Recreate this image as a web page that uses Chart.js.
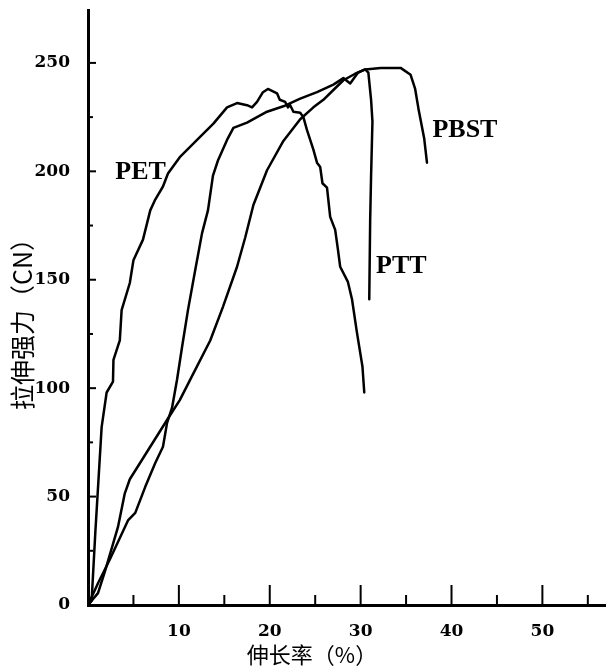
<!DOCTYPE html>
<html>
<head>
<meta charset="utf-8">
<script src="https://cdn.jsdelivr.net/npm/chart.js@4"></script>
<style>
  html, body { margin: 0; padding: 0; background: #fff; }
  #wrap { width: 606px; height: 670px; }
</style>
</head>
<body>
<div id="wrap"><canvas id="chart" width="606" height="670"></canvas></div>
<script>
// Curves: elongation (%) vs tensile force (CN)
const petX = [0, 0.4, 0.8, 1.5, 2.05, 2.75, 2.8, 3.5, 3.7, 4.6, 5.0, 6.05, 6.85, 7.4, 8.25, 8.8, 10.1, 12.0, 13.8, 15.3, 16.4, 17.5, 18.05, 18.6, 19.25, 19.8, 20.8, 21.1, 21.7, 22.0, 22.25, 22.6, 23.35, 23.7, 24.1, 24.8, 25.2, 25.55, 25.8, 26.3, 26.65, 27.2, 27.5, 27.75, 28.6, 29.05, 29.6, 30.2, 30.4];
const petY = [0, 2, 33, 82, 98, 103, 113, 122, 136, 148.5, 159, 168.5, 182, 187, 193, 199, 206.5, 214.5, 222, 229.5, 231.5, 230.5, 229.5, 232, 236.5, 238, 236, 233, 232, 229.5, 230.5, 227.5, 227, 225, 219, 210, 204, 202, 194.5, 192.5, 179, 173, 164, 156, 149, 141, 125.5, 110, 98];

const pbstX = [0, 1.1, 2.4, 4.4, 5.2, 6.3, 7.4, 8.25, 8.7, 9.25, 9.8, 10.35, 11.0, 11.8, 12.55, 13.2, 13.75, 14.3, 15.3, 16.0, 17.5, 19.7, 21.5, 23.35, 25.2, 27.0, 28.1, 28.85, 29.7, 30.5, 32.2, 34.4, 35.5, 36.0, 36.4, 37.0, 37.3];
const pbstY = [0, 10, 21, 39, 42.5, 54.5, 65.5, 73, 84, 91, 104, 119, 136, 154.5, 171.5, 182, 198, 205, 214.5, 220, 222.5, 227.5, 230, 233.5, 236.5, 240, 243, 240.5, 245.5, 247, 247.7, 247.7, 244.5, 238, 228, 215, 204];

const pttX = [0, 1.1, 1.9, 3.3, 4.05, 4.6, 5.95, 8.8, 10.1, 11.5, 13.45, 14.85, 16.4, 17.3, 18.2, 19.7, 21.5, 23.35, 24.8, 25.9, 27.0, 28.1, 29.4, 30.5, 30.85, 31.15, 31.3, 31.15, 31.05, 30.95];
const pttY = [0, 5.5, 16, 36, 51.5, 58, 67, 86, 94.5, 106, 122, 137.5, 156, 169.5, 184.5, 200.5, 214, 224, 229.5, 233, 237.5, 242, 245, 247, 245.5, 233, 223, 198, 177.5, 141];

const xTicks = [10, 20, 30, 40, 50];
const yTicks = [0, 50, 100, 150, 200, 250];

const curveNames = ['PET', 'PBST', 'PTT'];
const curveLabelX = [3.0, 37.9, 31.7];
const curveLabelY = [199.7, 219, 156.4];

const xTitle = '伸长率（%）';
const yTitle = '拉伸强力（CN）';

function pts(xs, ys) {
    return xs.map((x, i) => ({ x: x, y: ys[i] }));
}

const axisDecor = {
    id: 'axisDecor',
    afterDraw(chart) {
        const { ctx, chartArea, scales: { x, y } } = chart;
        ctx.save();
        ctx.strokeStyle = '#000';
        ctx.lineWidth = 2;
        // inward tick marks on x
        for (let v = 5; v <= 55; v += 5) {
            const px = x.getPixelForValue(v);
            const len = v % 10 === 0 ? 20 : 10;
            ctx.beginPath();
            ctx.moveTo(px, chartArea.bottom);
            ctx.lineTo(px, chartArea.bottom - len);
            ctx.stroke();
        }
        // inward tick marks on y
        for (let v = 25; v <= 250; v += 25) {
            const py = y.getPixelForValue(v);
            const len = v % 50 === 0 ? 8 : 5;
            ctx.beginPath();
            ctx.moveTo(chartArea.left, py);
            ctx.lineTo(chartArea.left + len, py);
            ctx.stroke();
        }

        // curve labels
        ctx.fillStyle = '#000';
        ctx.font = "bold 26px 'Liberation Serif', serif";
        ctx.textAlign = 'left';
        ctx.textBaseline = 'middle';
        curveNames.forEach((name, i) => {
            ctx.fillText(name, x.getPixelForValue(curveLabelX[i]), y.getPixelForValue(curveLabelY[i]));
        });

        // axis titles
        ctx.font = "22px 'Noto Sans CJK SC', sans-serif";
        ctx.textAlign = 'center';
        ctx.fillText(xTitle, 312, 655);
        ctx.translate(22, 318);
        ctx.rotate(-Math.PI / 2);
        ctx.font = "25px 'Noto Sans CJK SC', sans-serif";
        ctx.fillText(yTitle, 0, 0);
        ctx.restore();
    }
};

const lineStyle = {
    borderColor: '#000',
    borderWidth: 2.5,
    pointRadius: 0,
    tension: 0,
    fill: false,
    borderJoinStyle: 'round',
    borderCapStyle: 'round'
};

new Chart(document.getElementById('chart'), {
    type: 'line',
    data: {
        datasets: [
            Object.assign({ label: 'PET', data: pts(petX, petY) }, lineStyle),
            Object.assign({ label: 'PBST', data: pts(pbstX, pbstY) }, lineStyle),
            Object.assign({ label: 'PTT', data: pts(pttX, pttY) }, lineStyle)
        ]
    },
    options: {
        responsive: false,
        animation: false,
        devicePixelRatio: 1,
        layout: { padding: { top: 10, left: 0, right: 0, bottom: 0 } },
        plugins: { legend: { display: false }, tooltip: { enabled: false } },
        scales: {
            x: {
                type: 'linear',
                min: 0, max: 57,
                grid: { display: false, drawTicks: false },
                border: { display: true, color: '#000', width: 3 },
                afterBuildTicks: s => { s.ticks = xTicks.map(v => ({ value: v })); },
                afterFit: s => { s.height = 65; s.paddingRight = 0; s.paddingLeft = 0; },
                ticks: { color: '#000', font: { family: "'DejaVu Serif', serif", size: 17, weight: 'bold' }, padding: 16, maxRotation: 0 }
            },
            y: {
                type: 'linear',
                min: 0, max: 274.4,
                grid: { display: false, drawTicks: false },
                border: { display: true, color: '#000', width: 3 },
                afterBuildTicks: s => { s.ticks = yTicks.map(v => ({ value: v })); },
                afterFit: s => { s.width = 88; s.paddingTop = 0; s.paddingBottom = 0; },
                ticks: { color: '#000', font: { family: "'DejaVu Serif', serif", size: 17, weight: 'bold' }, padding: 18 }
            }
        }
    },
    plugins: [axisDecor]
});
</script>
</body>
</html>
